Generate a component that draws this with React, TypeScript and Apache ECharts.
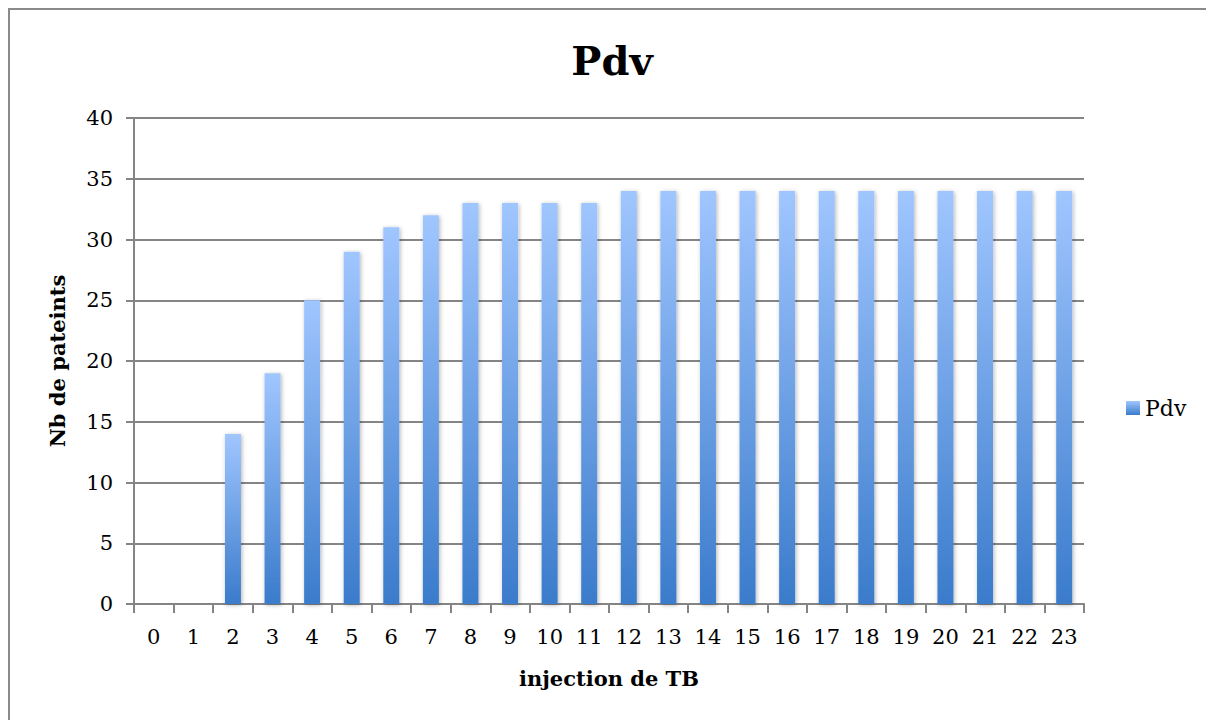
import React, { useEffect, useRef } from "react";
import * as echarts from "echarts";

const categories = ["0","1","2","3","4","5","6","7","8","9","10","11","12","13","14","15","16","17","18","19","20","21","22","23"];
const pdvValues = [0, 0, 14, 19, 25, 29, 31, 32, 33, 33, 33, 33, 34, 34, 34, 34, 34, 34, 34, 34, 34, 34, 34, 34];
const seriesName = "Pdv";
const titleText = "Pdv";
const xAxisName = "injection de TB";
const yAxisName = "Nb de pateints";

const FONT = "'DejaVu Serif', 'Liberation Serif', serif";

export default function App() {
  const ref = useRef<HTMLDivElement>(null);
  useEffect(() => {
    if (!ref.current) return;
    const chart = echarts.init(ref.current, undefined, { renderer: "svg" });
    const grad = new echarts.graphic.LinearGradient(0, 0, 0, 1, [
      { offset: 0, color: "#A0C6FF" },
      { offset: 1, color: "#3A7BCB" },
    ]);
    chart.setOption({
      animation: false,
      backgroundColor: "#ffffff",
      title: {
        text: titleText,
        left: "center",
        top: 25,
        textStyle: { fontFamily: FONT, fontSize: 40, fontWeight: "bold", color: "#000" },
      },
      legend: {
        data: [seriesName],
        left: 1111,
        top: 382,
        orient: "vertical",
        itemWidth: 14,
        itemHeight: 14,
        icon: "rect",
        itemGap: 6,
        textStyle: { fontFamily: FONT, fontSize: 22, color: "#000" },
      },
      grid: { left: 124, top: 108, right: 130, bottom: 116, containLabel: false },
      xAxis: {
        type: "category",
        data: categories,
        name: xAxisName,
        nameLocation: "middle",
        nameGap: 64,
        nameTextStyle: { fontFamily: FONT, fontSize: 21, fontWeight: "bold", color: "#000" },
        axisLine: { lineStyle: { color: "#858585", width: 2 } },
        axisTick: { show: true, alignWithLabel: false, length: 9, lineStyle: { color: "#858585", width: 2 } },
        axisLabel: { fontFamily: FONT, fontSize: 21, color: "#000", margin: 22, interval: 0 },
        splitLine: { show: false },
      },
      yAxis: {
        type: "value",
        min: 0,
        max: 40,
        interval: 5,
        name: yAxisName,
        nameLocation: "middle",
        nameGap: 66,
        nameTextStyle: { fontFamily: FONT, fontSize: 21, fontWeight: "bold", color: "#000" },
        axisLine: { show: true, lineStyle: { color: "#858585", width: 2 } },
        axisTick: { show: true, length: 8, lineStyle: { color: "#858585", width: 2 } },
        axisLabel: { fontFamily: FONT, fontSize: 21, color: "#000", margin: 21 },
        splitLine: { show: true, lineStyle: { color: "#858585", width: 2 } },
      },
      series: [
        {
          name: seriesName,
          type: "bar",
          data: pdvValues,
          barWidth: 16,
          itemStyle: {
            color: grad,
            shadowBlur: 4,
            shadowColor: "rgba(0,0,0,0.3)",
            shadowOffsetX: 1,
            shadowOffsetY: 1,
          },
        },
      ],
    });
    return () => chart.dispose();
  }, []);
  return (
    <div
      ref={ref}
      style={{
        width: 1206,
        height: 712,
        borderTop: "2px solid #8a8a8a",
        borderLeft: "2px solid #8a8a8a",
        boxSizing: "border-box",
      }}
    />
  );
}
